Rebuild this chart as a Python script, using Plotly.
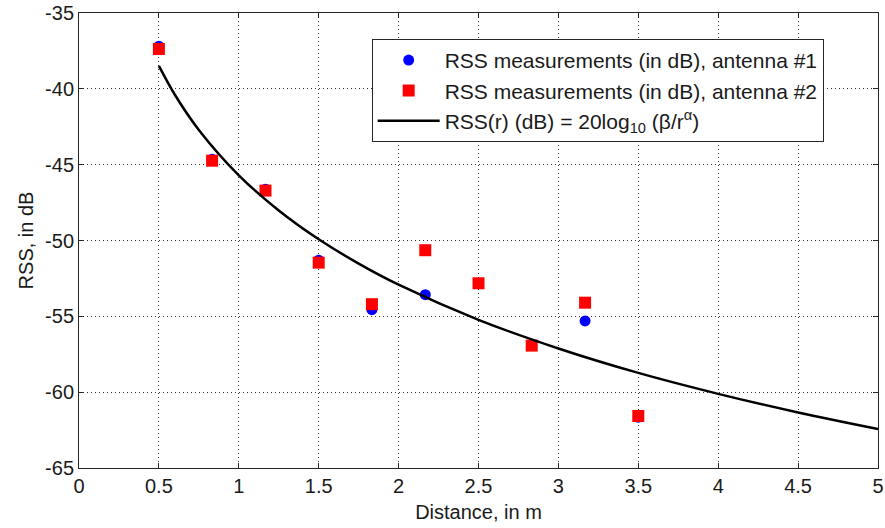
import plotly.graph_objects as go

# Data
distance = [0.5, 0.833, 1.167, 1.5, 1.833, 2.167, 2.5, 2.833, 3.167, 3.5]
rss_ant1 = [-37.2, -44.64, -46.62, -51.3, -54.56, -53.57, -52.82, -56.93, -55.3, -61.65]
rss_ant2 = [-37.37, -44.74, -46.71, -51.46, -54.2, -50.64, -52.82, -56.93, -54.1, -61.57]

curve_r = [0.5, 0.6, 0.75, 1.0, 1.25, 1.5, 1.75, 2.0, 2.5, 3.0, 3.5, 4.0, 4.5, 5.0]
curve_rss = [-38.49, -40.39, -42.71, -45.70, -48.02, -49.92, -51.52, -52.91,
             -55.23, -57.12, -58.73, -60.11, -61.34, -62.43]

x_ticks = [0, 0.5, 1, 1.5, 2, 2.5, 3, 3.5, 4, 4.5, 5]
y_ticks = [-35, -40, -45, -50, -55, -60, -65]

FONT = "Liberation Sans, Arial, Helvetica, sans-serif"
TXT = "#1a1a1a"

fig = go.Figure()
fig.add_trace(go.Scatter(
    x=distance, y=rss_ant1, mode="markers",
    name="RSS measurements (in dB), antenna #1",
    marker=dict(symbol="circle", size=11, color="#0000ff", line=dict(width=0)),
))
fig.add_trace(go.Scatter(
    x=distance, y=rss_ant2, mode="markers",
    name="RSS measurements (in dB), antenna #2",
    marker=dict(symbol="square", size=12, color="#ff0000", line=dict(width=0)),
))
fig.add_trace(go.Scatter(
    x=curve_r, y=curve_rss, mode="lines",
    name="RSS(r) (dB) = 20log<sub>10</sub> (β/r<sup>α</sup>)",
    line=dict(color="black", width=2.5, shape="spline"),
))

axis_common = dict(
    showline=True, linecolor="#262626", linewidth=1, mirror="ticks",
    ticks="inside", ticklen=5, tickcolor="#262626",
    showgrid=True, gridcolor="#333333", gridwidth=1, griddash="1px,3px",
    zeroline=False,
    tickfont=dict(family=FONT, size=20, color=TXT),
)

fig.update_layout(
    width=885, height=528,
    margin=dict(l=79, r=7, t=13, b=60, autoexpand=False),
    paper_bgcolor="white", plot_bgcolor="white",
    font=dict(family=FONT, size=20, color=TXT),
    showlegend=True,
    legend=dict(
        x=0.932, y=0.943, xanchor="right", yanchor="top",
        bgcolor="white", bordercolor="#262626", borderwidth=1,
        font=dict(family=FONT, size=21, color=TXT),
        itemwidth=62, tracegroupgap=0,
    ),
    xaxis=dict(
        range=[0, 5], tickvals=x_ticks,
        ticktext=[str(v) for v in x_ticks],
        title=dict(text="Distance, in m", standoff=8,
                   font=dict(family=FONT, size=20, color=TXT)),
        automargin=False,
        **axis_common,
    ),
    yaxis=dict(
        range=[-65, -35], tickvals=y_ticks,
        ticktext=[str(v) for v in y_ticks],
        title=dict(text="RSS, in dB", standoff=6,
                   font=dict(family=FONT, size=20, color=TXT)),
        automargin=False,
        **axis_common,
    ),
)

fig.write_html("out.html")
